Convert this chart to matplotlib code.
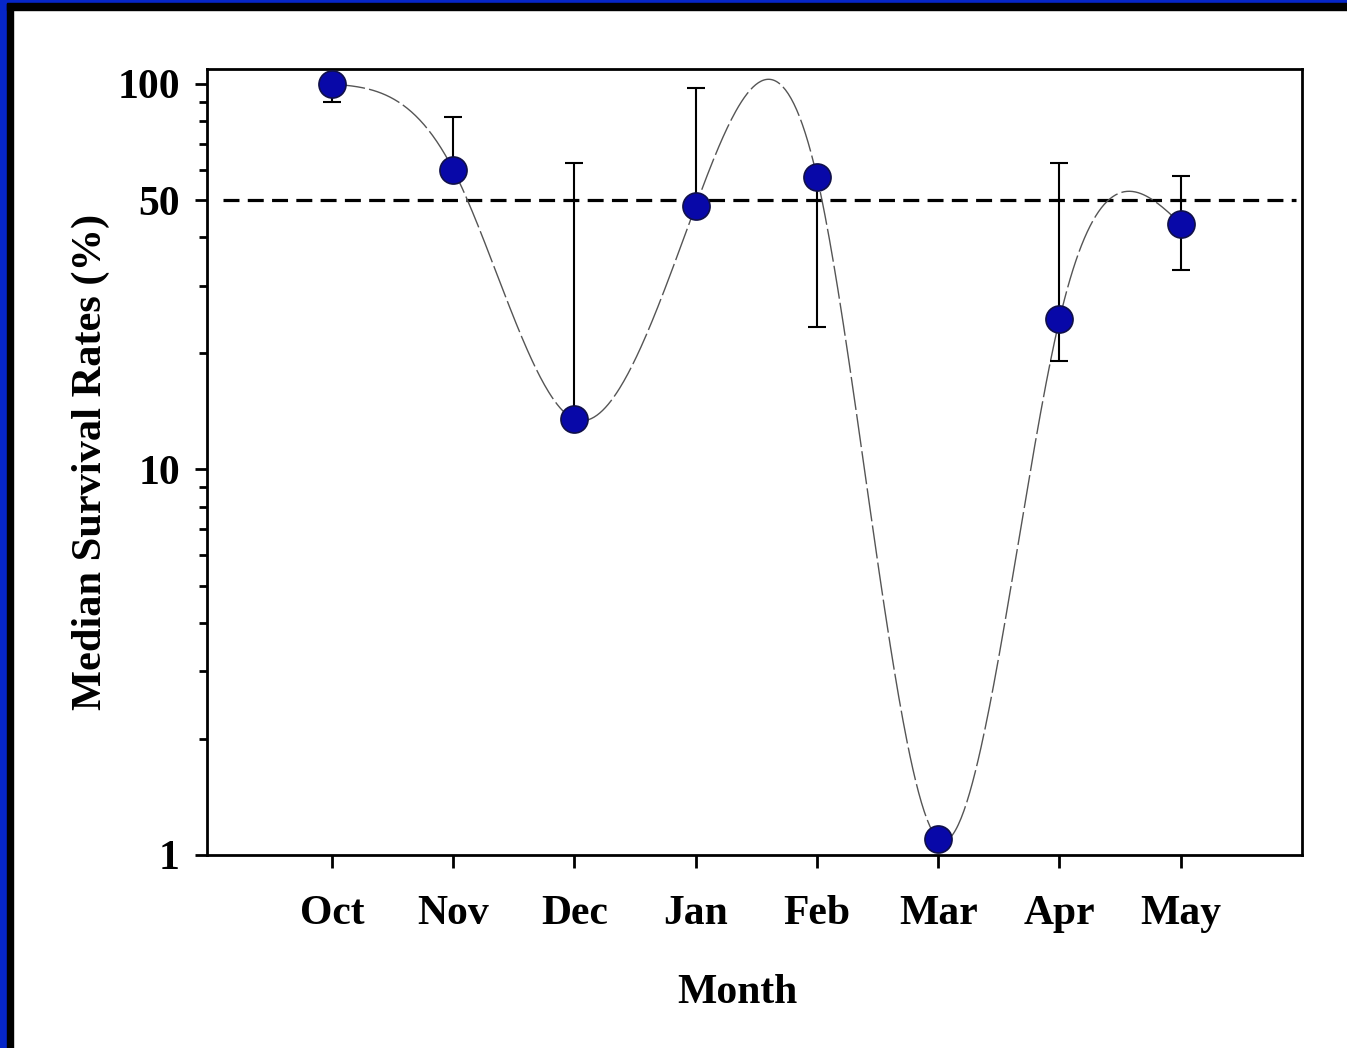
import matplotlib
matplotlib.use("Agg")
import matplotlib.pyplot as plt
import numpy as np
from matplotlib.patches import Rectangle
from matplotlib.ticker import LogLocator, NullFormatter, FixedLocator, FixedFormatter

months = ["Oct", "Nov", "Dec", "Jan", "Feb", "Mar", "Apr", "May"]
survival = [100.0, 60.0, 13.5, 48.3, 57.4, 1.1, 24.5, 43.4]
err_low = [90.0, 60.0, 13.5, 48.3, 23.4, 1.1, 19.1, 33.0]
err_high = [100.0, 82.0, 62.4, 97.6, 57.4, 1.1, 62.4, 57.7]
threshold = 50

plt.rcParams['font.family'] = ['Liberation Serif', 'DejaVu Serif']
plt.rcParams['font.weight'] = 'bold'


def natural_spline(x, y, xs):
    # plain natural cubic spline, used only to draw the smooth trend line
    x = np.asarray(x, float)
    y = np.asarray(y, float)
    n = len(x)
    h = np.diff(x)
    A = np.zeros((n, n))
    b = np.zeros(n)
    A[0, 0] = 1
    A[-1, -1] = 1
    for i in range(1, n - 1):
        A[i, i - 1] = h[i - 1]
        A[i, i] = 2 * (h[i - 1] + h[i])
        A[i, i + 1] = h[i]
        b[i] = 3 * ((y[i + 1] - y[i]) / h[i] - (y[i] - y[i - 1]) / h[i - 1])
    c = np.linalg.solve(A, b)
    out = np.zeros_like(xs)
    for k, xv in enumerate(xs):
        i = min(max(np.searchsorted(x, xv) - 1, 0), n - 2)
        dx = xv - x[i]
        bi = (y[i + 1] - y[i]) / h[i] - h[i] * (2 * c[i] + c[i + 1]) / 3
        di = (c[i + 1] - c[i]) / (3 * h[i])
        out[k] = y[i] + bi * dx + c[i] * dx ** 2 + di * dx ** 3
    return out


x = np.arange(1, len(months) + 1)
y = np.array(survival)

fig = plt.figure(figsize=(13.47, 10.48), dpi=100)
fig.patch.set_facecolor("white")
ax = fig.add_axes([0.1537, 0.1842, 0.8129, 0.75])

# smooth trend through the medians (spline in log space)
xs = np.linspace(x[0], x[-1], 600)
ys = 10 ** natural_spline(x, np.log10(y), xs)
ax.plot(xs, ys, color="#555555", lw=1.0, dashes=(24, 3), zorder=2)

# threshold line
ax.plot([0.1, 8.95], [threshold, threshold], color="black", lw=2.3, dashes=(5, 2.6), zorder=1)

yerr = [y - np.array(err_low), np.array(err_high) - y]
ax.errorbar(x, y, yerr=yerr, fmt="none", ecolor="black", elinewidth=1.5,
            capsize=6.5, capthick=1.5, zorder=3)
ax.plot(x, y, "o", ms=19.5, mfc="#0808a8", mec="#10104a", mew=1.2, zorder=4)

ax.set_yscale("log")
ax.set_ylim(1, 109.4)
ax.set_xlim(-0.03, 9.0)

ax.yaxis.set_major_locator(FixedLocator([1, 10, 50, 100]))
ax.yaxis.set_major_formatter(FixedFormatter(["1", "10", "50", "100"]))
ax.yaxis.set_minor_locator(LogLocator(base=10, subs=np.arange(2, 10)))
ax.yaxis.set_minor_formatter(NullFormatter())

ax.set_xticks(x)
ax.set_xticklabels(months)

for s in ax.spines.values():
    s.set_linewidth(2)
ax.tick_params(axis="both", which="major", direction="out", width=2, length=8.5,
               labelsize=30, top=False, right=False)
ax.tick_params(axis="y", which="minor", direction="out", width=2, length=6, right=False)
ax.tick_params(axis="x", which="major", length=9.5, pad=19)
ax.tick_params(axis="y", which="major", pad=11)

ax.set_xlabel("Month", fontsize=30, fontweight="bold", labelpad=29)
ax.xaxis.set_label_coords(0.4845, -0.152)
ax.set_ylabel("Median Survival Rates (%)", fontsize=30.5, fontweight="bold", labelpad=5)

# slide-style frame along left and top edges
fig.patches.append(Rectangle((0, 0), 7 / 1347, 1, transform=fig.transFigure,
                             color="#0626c8", zorder=10))
fig.patches.append(Rectangle((7 / 1347, 0), 6 / 1347, 1 - 3 / 1048, transform=fig.transFigure,
                             color="black", zorder=10))
fig.patches.append(Rectangle((0, 1 - 3 / 1048), 1, 3 / 1048, transform=fig.transFigure,
                             color="#0626c8", zorder=10))
fig.patches.append(Rectangle((7 / 1347, 1 - 10 / 1048), 1, 7 / 1048, transform=fig.transFigure,
                             color="black", zorder=10))

fig.savefig("out.png", dpi=100)
